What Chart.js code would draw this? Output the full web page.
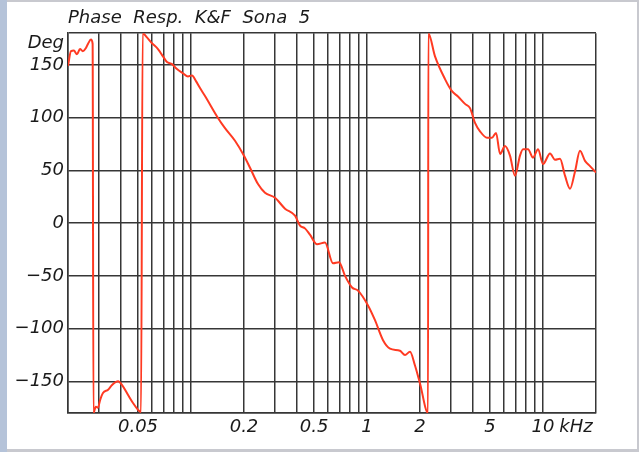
<!DOCTYPE html>
<html>
<head>
<meta charset="utf-8">
<script src="https://cdn.jsdelivr.net/npm/chart.js@4.4.1/dist/chart.umd.min.js"></script>
<style>
  html, body { margin: 0; padding: 0; }
  body { width: 639px; height: 452px; background: #c8c9cf; position: relative; overflow: hidden; }
  #leftStrip { position: absolute; left: 0; top: 0; width: 7px; height: 452px; background: #b5c3d9; }
  #panel { position: absolute; left: 7px; top: 2px; width: 630px; height: 447px; background: #fff; }
  #wrap { position: absolute; left: 0; top: 0; width: 639px; height: 452px; }
</style>
</head>
<body>
<div id="leftStrip"></div>
<div id="panel"></div>
<div id="wrap"><canvas id="myChart" width="639" height="452"></canvas></div>
<script>
// frequency in kHz, phase in degrees
const freqKHz = [
  0.0200, 0.0208, 0.0216, 0.0225, 0.0234, 0.0243, 0.0253, 0.0260, 0.0270, 0.0276,
  0.0279, 0.0288, 0.0296, 0.0304, 0.0316, 0.0338, 0.0356, 0.0385, 0.0406, 0.0439,
  0.0468, 0.0500, 0.0520, 0.0531, 0.0562, 0.0600, 0.0649, 0.0693, 0.0730, 0.0780,
  0.0832, 0.0900, 0.0961, 0.1013, 0.1067, 0.1125, 0.1201, 0.1423, 0.156, 0.1778,
  0.200, 0.2164, 0.2402, 0.2632, 0.300, 0.342, 0.390, 0.416, 0.444, 0.474,
  0.520, 0.577, 0.641, 0.693, 0.750, 0.822, 0.889, 1.013, 1.110, 1.233,
  1.351, 1.539, 1.644, 1.755, 1.873, 2.0, 2.222, 2.23, 2.434, 2.774,
  3.04, 3.288, 3.604, 3.848, 4.108, 4.385, 4.806, 5.13, 5.41, 5.70,
  6.08, 6.49, 6.93, 7.40, 7.70, 8.22, 8.77, 9.37, 10.0, 10.96,
  11.70, 12.49, 13.33, 14.24, 15.2, 16.22, 17.32, 18.49, 20.0
];
const phaseDeg = [
  149, 163, 163.5, 160, 165, 163, 166, 170, 174, 170,
  -180, -174, -175, -168, -161, -158, -153.5, -150, -153.5, -163,
  -170.5, -177, -179, 180, 176, 170.5, 165, 158, 152.6, 150.7,
  146, 142, 139, 140, 134.6, 128, 120.5, 99.7, 90, 78,
  63.8, 52.4, 37, 28.8, 24, 13.7, 7, -2.4, -5, -11,
  -20, -18.5, -38, -37, -50, -61, -64, -78, -92, -111,
  -119, -121, -125, -122, -135, -152, -180, 180, 158, 136.5,
  125, 120, 113, 109, 95, 87, 81, 81, 85.5, 65.6,
  73, 64, 45, 64, 70, 70, 62, 70, 56, 66,
  60, 61, 45, 32.6, 49, 68.5, 59, 54, 48
];

// grid lines every 1..9 per decade, labels only on some
const xGrid = [0.02, 0.03, 0.04, 0.05, 0.06, 0.07, 0.08, 0.09,
  0.1, 0.2, 0.3, 0.4, 0.5, 0.6, 0.7, 0.8, 0.9,
  1, 2, 3, 4, 5, 6, 7, 8, 9,
  10, 20];
const xLabels = { 0.05: '0.05', 0.2: '0.2', 0.5: '0.5', 1: '1', 2: '2', 5: '5', 10: '10' };
const unitPos = 15.4; // where "kHz" sits
const yGrid = [-180, -150, -100, -50, 0, 50, 100, 150, 180];
const yUnitPos = 170; // where "Deg" sits

const gridColor = '#363636';
const font = { family: 'DejaVu Sans', style: 'italic', size: 18 };

const ctx = document.getElementById('myChart');
new Chart(ctx, {
  type: 'line',
  data: {
    datasets: [{
      data: freqKHz.map((f, i) => ({ x: f, y: phaseDeg[i] })),
      borderColor: '#ff3a22',
      borderWidth: 2,
      pointRadius: 0,
      cubicInterpolationMode: 'monotone',
      fill: false
    }]
  },
  options: {
    responsive: false,
    animation: false,
    layout: { padding: { left: 0, right: 43, top: 0, bottom: 0 } },
    plugins: {
      legend: { display: false },
      tooltip: { enabled: false },
      title: {
        display: true,
        text: 'Phase  Resp.  K&F  Sona  5',
        align: 'start',
        fullSize: false,
        color: '#1a1a1a',
        font: { family: 'DejaVu Sans', style: 'italic', size: 18, weight: 'normal' },
        padding: { top: 8, bottom: 3.6 }
      }
    },
    scales: {
      x: {
        type: 'logarithmic',
        min: 0.02,
        max: 20,
        afterBuildTicks: (scale) => {
          scale.ticks = xGrid.concat([unitPos]).map(v => ({ value: v }));
        },
        afterFit: (scale) => { scale.height = 39; },
        grid: {
          color: (c) => (c.tick && c.tick.value === unitPos) ? 'rgba(0,0,0,0)' : gridColor,
          lineWidth: 1.5,
          drawTicks: false
        },
        border: { color: gridColor, width: 1.5 },
        ticks: {
          autoSkip: false,
          maxRotation: 0,
          padding: 4,
          color: '#1a1a1a',
          font: font,
          callback: (v) => v === unitPos ? 'kHz' : (xLabels[v] || '')
        }
      },
      y: {
        min: -180,
        max: 180,
        afterBuildTicks: (scale) => {
          scale.ticks = yGrid.concat([yUnitPos]).map(v => ({ value: v }));
        },
        afterFit: (scale) => { scale.width = 68; },
        grid: {
          color: (c) => (c.tick && c.tick.value === yUnitPos) ? 'rgba(0,0,0,0)' : gridColor,
          lineWidth: 1.5,
          drawTicks: false
        },
        border: { color: gridColor, width: 1.5 },
        ticks: {
          padding: 4,
          color: '#1a1a1a',
          font: font,
          callback: (v) => {
            if (v === yUnitPos) return 'Deg';
            if (v === 180 || v === -180) return '';
            return String(v).replace('-', '\u2212');
          }
        }
      }
    }
  }
});
</script>
</body>
</html>
